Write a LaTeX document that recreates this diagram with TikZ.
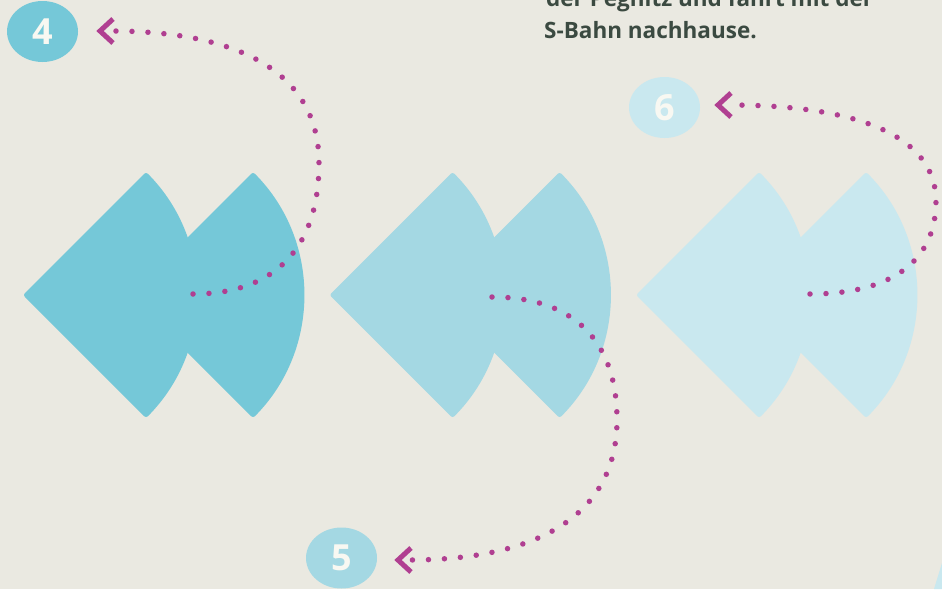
\documentclass[tikz,border=0pt]{standalone}
\usepackage{fontspec}
\setmainfont{Open Sans}
\definecolor{bg}{HTML}{EAE9E1}
\definecolor{gone}{HTML}{75C8D8}
\definecolor{gtwo}{HTML}{A4D8E3}
\definecolor{gthree}{HTML}{C9E8EF}
\definecolor{mag}{HTML}{B03F91}
\definecolor{txt}{HTML}{3B4A41}
\definecolor{digit}{HTML}{F8F8F2}
\tikzset{
  sector/.style={fill=#1, draw=none, rounded corners=2.5pt},
  badge/.style={ellipse, fill=#1, minimum width=71pt, minimum height=61pt, inner sep=0pt,
    text=digit, font=\fontsize{36}{36}\selectfont\bfseries},
  dotline/.style={draw=mag, line width=5.5pt, line cap=round, dash pattern=on 0pt off 16pt},
  chev/.style={draw=mag, line width=5pt, miter limit=10},
  para/.style={anchor=base west, text=txt, font=\fontsize{22.5}{27}\selectfont\bfseries, inner sep=0pt}
}
\usetikzlibrary{shapes.geometric}
\newcommand{\fishpair}[2]{%
  \fill[sector=#2] (#1,295) -- ++(45:174) arc[start angle=45, end angle=-45, radius=174] -- cycle;
  \fill[sector=#2] (#1+107,295) -- ++(45:174) arc[start angle=45, end angle=-45, radius=174] -- cycle;
}
\begin{document}
\begin{tikzpicture}[x=1pt,y=-1pt]
\fill[bg] (0,0) rectangle (942,589);
\useasboundingbox (0,0) rectangle (942,589);
% shapes
\fishpair{23}{gone}
\fishpair{329.5}{gtwo}
\fishpair{636}{gthree}
\fill[gthree] (946,550) -- (934,589) -- (946,589) -- cycle;
% text
\node[para] (t1) at (546,6.5) {der Pegnitz und fährt mit der};
\node[para] (t2) at (544,38) {S-Bahn nachhause.};
% badges
\node[badge=gone] (b4) at (42.5,31.5) {4};
\node[badge=gtwo] (b5) at (341.5,558) {5};
\node[badge=gthree] (b6) at (664.5,107.5) {6};
% dotted paths
\coordinate (s4) at (193,294);
\coordinate (v4) at (319,163);
\coordinate (e4) at (111,31);
\draw[dotline] (s4) .. controls (275,294) and (319,248) .. (v4)
  .. controls (319,77) and (246,31) .. (e4);
\coordinate (s5) at (492,297);
\coordinate (v5) at (617,420);
\coordinate (e5) at (409,560);
\draw[dotline] (s5) .. controls (573,297) and (617,340) .. (v5)
  .. controls (617,511) and (544,560) .. (e5);
\coordinate (s6) at (810,294);
\coordinate (v6) at (936,201);
\coordinate (e6) at (729,105);
\draw[dotline] (s6) .. controls (892,294) and (936,261) .. (v6)
  .. controls (936,139) and (864,105) .. (e6);
% chevrons
\foreach \e in {e4,e5,e6}{
  \draw[chev] ([shift={(2,-12)}]\e) -- ([shift={(-11,0)}]\e) -- ([shift={(2,12)}]\e);
}
\end{tikzpicture}
\end{document}
